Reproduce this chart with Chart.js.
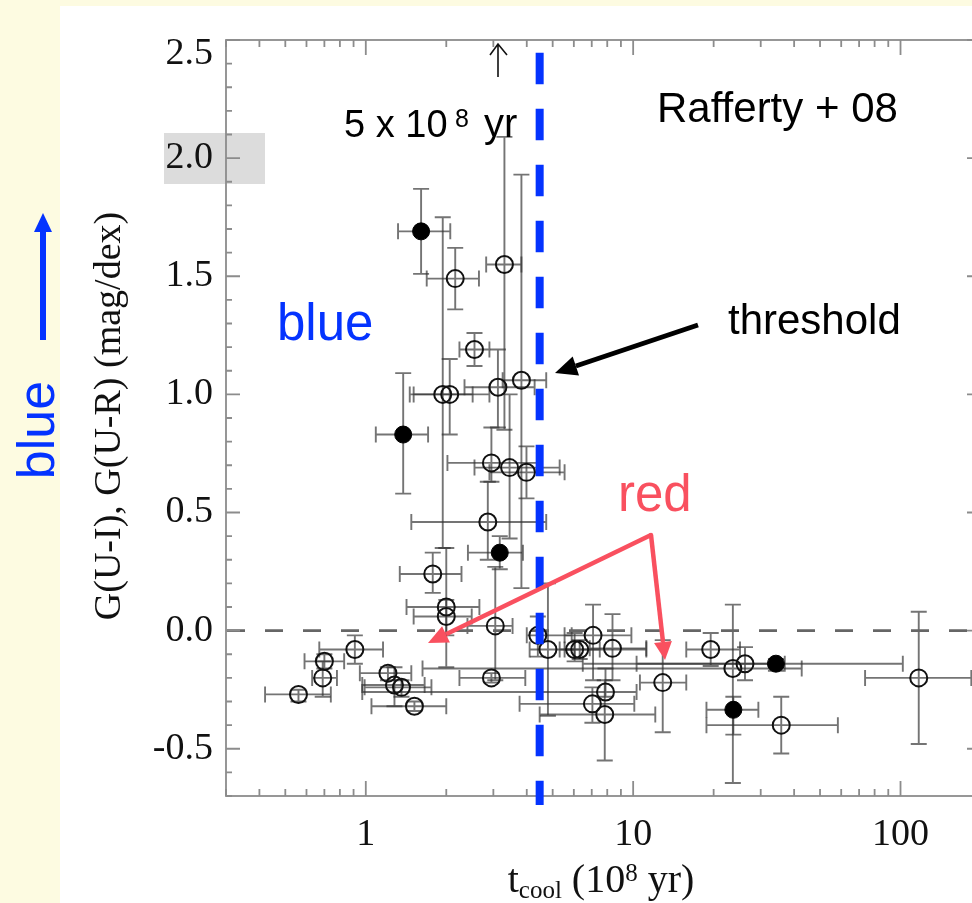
<!DOCTYPE html>
<html>
<head>
<meta charset="utf-8">
<title>Rafferty + 08</title>
<script src="https://cdn.jsdelivr.net/npm/chart.js@4.4.0/dist/chart.umd.min.js"></script>
<style>
  html, body { margin: 0; padding: 0; overflow: hidden; background: #fdfbe1; }
  #panel { position: absolute; left: 60px; top: 6px; width: 1000px; height: 1000px; background: #fff; }
  #wrap { position: absolute; left: 0; top: 0; width: 1000px; height: 903px; }
</style>
</head>
<body>
<div id="panel"></div>
<div id="wrap"><canvas id="gcolor" width="1000" height="903"></canvas></div>
<script>
// axis ranges and tick labels
const X_MIN = 0.3, X_MAX = 200;
const Y_MIN = -0.7, Y_MAX = 2.5;
const xTickLabels = [1, 10, 100];
const yTickLabels = [-0.5, 0, 0.5, 1, 1.5, 2, 2.5];
const thresholdT = 4.47;

// open circles: t_cool (1e8 yr) with error range, G(U-I)/G(U-R) with error range
const openT   = [0.56, 0.70, 0.69, 0.91, 1.21, 1.28, 1.36, 1.52, 2.16, 3.30, 2.55, 1.94, 2.06, 3.12, 3.82, 2.95, 3.45, 3.99, 2.86, 1.78, 2.00, 2.00, 3.05, 2.95, 4.40, 4.80, 6.04, 6.31, 7.08, 8.37, 7.88, 7.04, 7.83, 12.9, 19.5, 23.6, 26.2, 35.8, 117];
const openTLo = [0.42, 0.59, 0.63, 0.67, 0.95, 0.97, 0.99, 1.05, 1.69, 2.82, 2.24, 1.46, 1.51, 2.34, 3.25, 2.02, 2.55, 2.90, 1.48, 1.34, 1.42, 1.51, 2.40, 2.24, 4.00, 4.10, 5.31, 5.54, 5.54, 6.88, 0.97, 3.76, 4.47, 10.6, 15.8, 1.63, 6.48, 18.8, 73.7];
const openTHi = [0.74, 0.83, 0.78, 1.16, 1.48, 1.66, 1.76, 2.00, 2.65, 3.82, 2.90, 2.51, 2.90, 4.28, 4.73, 4.47, 5.31, 5.54, 4.73, 2.28, 2.66, 2.49, 3.54, 3.95, 5.89, 6.04, 7.50, 11.2, 9.85, 11.2, 10.3, 10.1, 12.1, 15.8, 25.1, 42.7, 36.9, 58.3, 184];
const openG   = [-0.27, -0.13, -0.20, -0.08, -0.18, -0.23, -0.24, -0.32, 1.49, 1.55, 1.19, 1.00, 1.00, 1.03, 1.06, 0.71, 0.69, 0.67, 0.46, 0.24, 0.10, 0.06, 0.02, -0.20, -0.02, -0.08, -0.08, -0.08, -0.02, -0.075, -0.26, -0.31, -0.355, -0.22, -0.08, -0.16, -0.14, -0.40, -0.20];
const openGLo = [-0.30, -0.16, -0.28, -0.14, -0.21, -0.32, -0.28, -0.34, 1.36, 0.85, 1.12, 0.35, 0.83, 0.86, 0.18, 0.63, 0.39, 0.56, 0.30, 0.16, -0.155, -0.02, -0.21, -0.22, -0.11, -0.36, -0.13, -0.12, -0.21, -0.21, -0.28, -0.39, -0.55, -0.43, -0.15, -0.645, -0.21, -0.52, -0.48];
const openGHi = [-0.25, -0.10, -0.13, -0.02, -0.155, -0.155, -0.21, -0.30, 1.62, 2.09, 1.26, 1.75, 1.15, 1.19, 1.93, 0.86, 1.00, 0.78, 0.63, 0.33, 0.35, 0.13, 0.27, -0.18, 0.06, 0.20, -0.01, -0.04, 0.11, 0.07, -0.16, -0.24, -0.21, -0.04, -0.01, 0.11, -0.07, -0.28, 0.08];

// filled circles
const fillT   = [1.61, 1.38, 3.17, 34.2, 23.7];
const fillTLo = [1.32, 1.09, 2.41, 10.3, 18.8];
const fillTHi = [2.07, 1.71, 3.87, 102, 29.4];
const fillG   = [1.69, 0.83, 0.33, -0.14, -0.335];
const fillGLo = [1.51, 0.58, 0.26, -0.17, -0.44];
const fillGHi = [1.87, 1.09, 0.40, -0.12, -0.28];

const SERIF = '"Liberation Serif", "Times New Roman", serif';
const SANS = '"Liberation Sans", Arial, sans-serif';
const BLUE = '#0433ff';
const RED = '#f9505f';

function makePoints(t, tLo, tHi, g, gLo, gHi) {
  return t.map(function (v, i) {
    return { x: v, y: g[i], xMin: tLo[i], xMax: tHi[i], yMin: gLo[i], yMax: gHi[i] };
  });
}

// error bars under the circles
const errorBars = {
  id: 'errorBars',
  beforeDatasetsDraw(chart) {
    const ctx = chart.ctx;
    const xs = chart.scales.x, ys = chart.scales.y;
    const cap = 8;
    ctx.save();
    ctx.strokeStyle = 'rgba(50,50,50,0.68)';
    ctx.lineWidth = 1.9;
    chart.data.datasets.forEach(function (ds) {
      if (!ds.errors) return;
      ds.data.forEach(function (p) {
        const px = xs.getPixelForValue(p.x), py = ys.getPixelForValue(p.y);
        const x0 = xs.getPixelForValue(p.xMin), x1 = xs.getPixelForValue(p.xMax);
        const y0 = ys.getPixelForValue(p.yMin), y1 = ys.getPixelForValue(p.yMax);
        ctx.beginPath();
        ctx.moveTo(x0, py); ctx.lineTo(x1, py);
        ctx.moveTo(x0, py - cap); ctx.lineTo(x0, py + cap);
        ctx.moveTo(x1, py - cap); ctx.lineTo(x1, py + cap);
        ctx.moveTo(px, y0); ctx.lineTo(px, y1);
        ctx.moveTo(px - cap, y0); ctx.lineTo(px + cap, y0);
        ctx.moveTo(px - cap, y1); ctx.lineTo(px + cap, y1);
        ctx.stroke();
      });
    });
    ctx.restore();
  }
};

// box frame with inward ticks on all four sides
const frame = {
  id: 'frame',
  afterDatasetsDraw(chart) {
    const ctx = chart.ctx, a = chart.chartArea;
    const xs = chart.scales.x, ys = chart.scales.y;
    ctx.save();
    ctx.strokeStyle = '#8c8c8c';
    ctx.lineWidth = 1.8;
    ctx.strokeRect(a.left, a.top, a.right - a.left, a.bottom - a.top);
    ctx.beginPath();
    [0.1, 1, 10, 100].forEach(function (d) {
      for (let m = 1; m <= 9; m++) {
        const v = m * d;
        if (v <= X_MIN || v >= X_MAX) continue;
        const len = m === 1 ? 15 : 7;
        const px = xs.getPixelForValue(v);
        ctx.moveTo(px, a.bottom); ctx.lineTo(px, a.bottom - len);
        ctx.moveTo(px, a.top); ctx.lineTo(px, a.top + len);
      }
    });
    for (let k = -7; k <= 25; k++) {
      const v = k / 10;
      const len = k % 5 === 0 ? 14 : 6;
      const py = ys.getPixelForValue(v);
      ctx.moveTo(a.left, py); ctx.lineTo(a.left + len, py);
      ctx.moveTo(a.right, py); ctx.lineTo(a.right - len, py);
    }
    ctx.stroke();
    ctx.restore();
  }
};

function arrow(ctx, x0, y0, x1, y1, width, headLen, headHalf, color) {
  const ang = Math.atan2(y1 - y0, x1 - x0);
  const bx = x1 - headLen * Math.cos(ang), by = y1 - headLen * Math.sin(ang);
  ctx.strokeStyle = color;
  ctx.fillStyle = color;
  ctx.lineWidth = width;
  ctx.beginPath();
  ctx.moveTo(x0, y0); ctx.lineTo(bx, by);
  ctx.stroke();
  ctx.beginPath();
  ctx.moveTo(x1, y1);
  ctx.lineTo(bx + headHalf * Math.sin(ang), by - headHalf * Math.cos(ang));
  ctx.lineTo(bx - headHalf * Math.sin(ang), by + headHalf * Math.cos(ang));
  ctx.closePath();
  ctx.fill();
}

// titles, highlight box and slide annotations
const notes = {
  id: 'notes',
  beforeDraw(chart) {
    const ctx = chart.ctx;
    ctx.save();
    ctx.fillStyle = '#dcdcdc';
    ctx.fillRect(164, 133, 101, 51);
    ctx.restore();
  },
  afterDraw(chart) {
    const ctx = chart.ctx, a = chart.chartArea;
    const xs = chart.scales.x;
    ctx.save();

    // top y label sits a little below its tick, as in the original plot
    ctx.fillStyle = '#111';
    ctx.font = '38px ' + SERIF;
    ctx.textAlign = 'right';
    ctx.textBaseline = 'middle';
    ctx.fillText(Y_MAX.toFixed(1), a.left - 13, 54);

    // threshold line
    const tx = xs.getPixelForValue(thresholdT);
    ctx.strokeStyle = BLUE;
    ctx.lineWidth = 8;
    ctx.setLineDash([31.5, 24.5]);
    ctx.beginPath();
    ctx.moveTo(tx, 52.7); ctx.lineTo(tx, a.bottom + 9);
    ctx.stroke();
    ctx.setLineDash([]);

    // y title
    ctx.fillStyle = '#111';
    ctx.font = '38px ' + SERIF;
    ctx.textAlign = 'center';
    ctx.textBaseline = 'alphabetic';
    ctx.save();
    ctx.translate(120, 416);
    ctx.rotate(-Math.PI / 2);
    ctx.fillText('G(U-I), G(U-R) (mag/dex)', 0, 0);
    ctx.restore();

    // x title with sub and superscript
    const big = '40px ' + SERIF, small = '25px ' + SERIF;
    const parts = [['t', big, 0], ['cool', small, 6], [' (10', big, 0], ['8', small, -11], [' yr)', big, 0]];
    let total = 0;
    parts.forEach(function (p) { ctx.font = p[1]; total += ctx.measureText(p[0]).width; });
    let cx = 601 - total / 2;
    ctx.textAlign = 'left';
    parts.forEach(function (p) {
      ctx.font = p[1];
      ctx.fillText(p[0], cx, 892 + p[2]);
      cx += ctx.measureText(p[0]).width;
    });

    // small up arrow and 5 x 10^8 yr
    ctx.strokeStyle = '#111';
    ctx.lineWidth = 1.6;
    ctx.beginPath();
    ctx.moveTo(498, 77); ctx.lineTo(498, 44);
    ctx.moveTo(490, 55); ctx.lineTo(498, 44); ctx.lineTo(507, 55);
    ctx.stroke();
    ctx.fillStyle = '#000';
    ctx.font = '38px ' + SANS;
    ctx.fillText('5 x 10', 344, 137);
    ctx.font = '25px ' + SANS;
    ctx.fillText('8', 455, 127);
    ctx.font = '40px ' + SANS;
    ctx.fillText('yr', 484, 137);

    ctx.font = '42px ' + SANS;
    ctx.fillText('Rafferty + 08', 657, 122);
    ctx.fillText('threshold', 728, 334);
    arrow(ctx, 698, 325, 555, 373, 5, 22, 10, '#000');

    ctx.fillStyle = BLUE;
    ctx.font = '51px ' + SANS;
    ctx.fillText('blue', 277, 340);

    ctx.fillStyle = RED;
    ctx.font = '51px ' + SANS;
    ctx.fillText('red', 618, 511);
    arrow(ctx, 651, 535, 428, 643, 4.5, 20, 9, RED);
    arrow(ctx, 651, 535, 665, 660, 4.5, 18, 9, RED);
    ctx.fillStyle = RED;
    ctx.beginPath();
    ctx.arc(651, 535, 2.2, 0, Math.PI * 2);
    ctx.fill();

    // left strip: blue arrow and rotated label
    arrow(ctx, 43, 340, 43, 213, 6, 19, 9, BLUE);
    ctx.fillStyle = BLUE;
    ctx.font = '52px ' + SANS;
    ctx.textAlign = 'center';
    ctx.save();
    ctx.translate(54, 430);
    ctx.rotate(-Math.PI / 2);
    ctx.fillText('blue', 0, 0);
    ctx.restore();

    ctx.restore();
  }
};

const ctx = document.getElementById('gcolor').getContext('2d');
const chart = new Chart(ctx, {
  type: 'scatter',
  data: {
    datasets: [
      {
        label: 'filled',
        data: makePoints(fillT, fillTLo, fillTHi, fillG, fillGLo, fillGHi),
        errors: true,
        pointRadius: 8.5,
        pointBorderWidth: 1,
        pointBorderColor: '#000',
        pointBackgroundColor: '#000',
      },
      {
        label: 'open',
        data: makePoints(openT, openTLo, openTHi, openG, openGLo, openGHi),
        errors: true,
        pointRadius: 8.5,
        pointBorderWidth: 2,
        pointBorderColor: '#111',
        pointBackgroundColor: 'rgba(0,0,0,0)',
      },
      {
        label: 'zero',
        type: 'line',
        data: [{ x: X_MIN, y: 0 }, { x: X_MAX, y: 0 }],
        borderColor: '#666',
        borderWidth: 2.8,
        borderDash: [18, 20],
        borderDashOffset: -1,
        pointRadius: 0,
        fill: false,
      },
    ],
  },
  options: {
    responsive: false,
    animation: false,
    events: [],
    layout: { padding: { left: 0, top: 40, right: 19, bottom: 0 } },
    plugins: {
      legend: { display: false },
      tooltip: { enabled: false },
    },
    scales: {
      x: {
        type: 'logarithmic',
        min: X_MIN,
        max: X_MAX,
        afterFit: function (s) { s.height = 107; },
        afterBuildTicks: function (s) { s.ticks = xTickLabels.map(function (v) { return { value: v }; }); },
        grid: { display: false, drawTicks: false },
        border: { display: false },
        ticks: {
          autoSkip: false,
          maxRotation: 0,
          padding: 16,
          color: '#111',
          font: { family: SERIF, size: 38 },
          callback: function (v) { return String(v); },
        },
      },
      y: {
        min: Y_MIN,
        max: Y_MAX,
        afterFit: function (s) { s.width = 226; },
        afterBuildTicks: function (s) { s.ticks = yTickLabels.map(function (v) { return { value: v }; }); },
        grid: { display: false, drawTicks: false },
        border: { display: false },
        ticks: {
          autoSkip: false,
          padding: 13,
          color: '#111',
          font: { family: SERIF, size: 38 },
          // the top label is drawn slightly lower by the notes plugin
          callback: function (v) { return v === Y_MAX ? '' : Number(v).toFixed(1); },
        },
      },
    },
  },
  plugins: [errorBars, frame, notes],
});
</script>
</body>
</html>
